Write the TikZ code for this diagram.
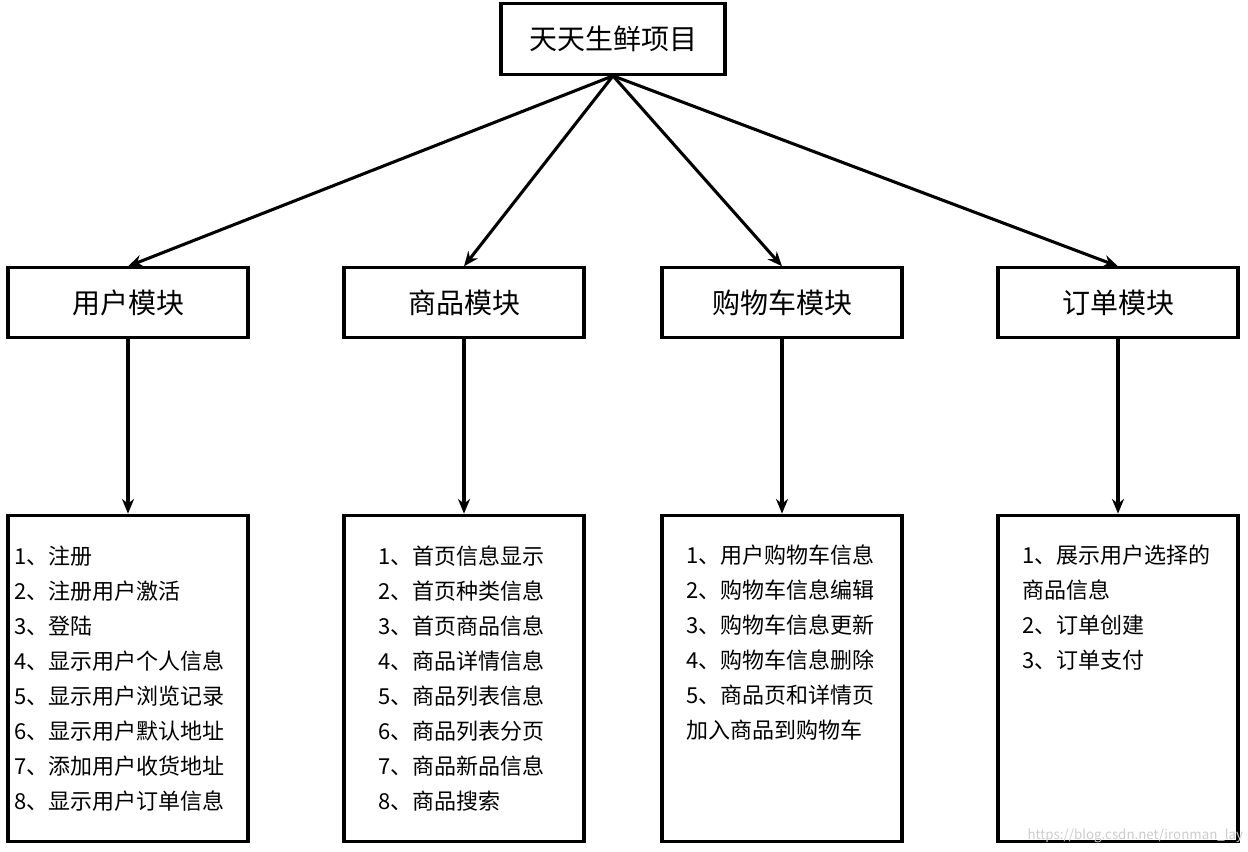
\documentclass[tikz,border=0pt]{standalone}
\usepackage{fontspec}
\setmainfont{Noto Sans CJK SC}
\usetikzlibrary{arrows.meta}
\begin{document}
\begin{tikzpicture}[x=0.75pt,y=-0.75pt,
  box/.style={draw,line width=2.3pt,minimum width=180pt,minimum height=52pt,inner sep=0pt,font=\fontsize{21}{24}\selectfont},
  big/.style={draw,line width=2.3pt,minimum width=180pt,minimum height=245pt,inner sep=0pt},
  txt/.style={anchor=north west,align=left,inner sep=0pt,font=\fontsize{16.5}{26.25}\selectfont},
  arr/.style={line width=2.3pt,-{Stealth[length=11pt,width=9pt]}}]
\useasboundingbox (0,0) rectangle (1248,852);
\node[box,minimum width=168pt,minimum height=53pt] (top) at (613,39) {天天生鲜项目};
\foreach \n/\x/\t in {a/128/用户模块,b/464/商品模块,c/782/购物车模块,d/1118/订单模块}{
  \node[box] (\n) at (\x,302.5) {\t};
  \node[big] (\n2) at (\x,678.5) {};
  \draw[arr] (top.south) -- (\n.north);
  \draw[arr] (\n.south) -- (\n2.north);
}
\node[txt] (ta) at (14,546) {1、注册\\2、注册用户激活\\3、登陆\\4、显示用户个人信息\\5、显示用户浏览记录\\6、显示用户默认地址\\7、添加用户收货地址\\8、显示用户订单信息};
\node[txt] (tb) at (378,546) {1、首页信息显示\\2、首页种类信息\\3、首页商品信息\\4、商品详情信息\\5、商品列表信息\\6、商品列表分页\\7、商品新品信息\\8、商品搜索};
\node[txt] (tc) at (686,545) {1、用户购物车信息\\2、购物车信息编辑\\3、购物车信息更新\\4、购物车信息删除\\5、商品页和详情页\\加入商品到购物车};
\node[txt] (td) at (1022,545) {1、展示用户选择的\\商品信息\\2、订单创建\\3、订单支付};
\node[anchor=south east,inner sep=2pt,text=gray!40,font=\fontsize{10}{12}\selectfont] (wm) at (1246,846) {https://blog.csdn.net/ironman\_lay};
\end{tikzpicture}
\end{document}
